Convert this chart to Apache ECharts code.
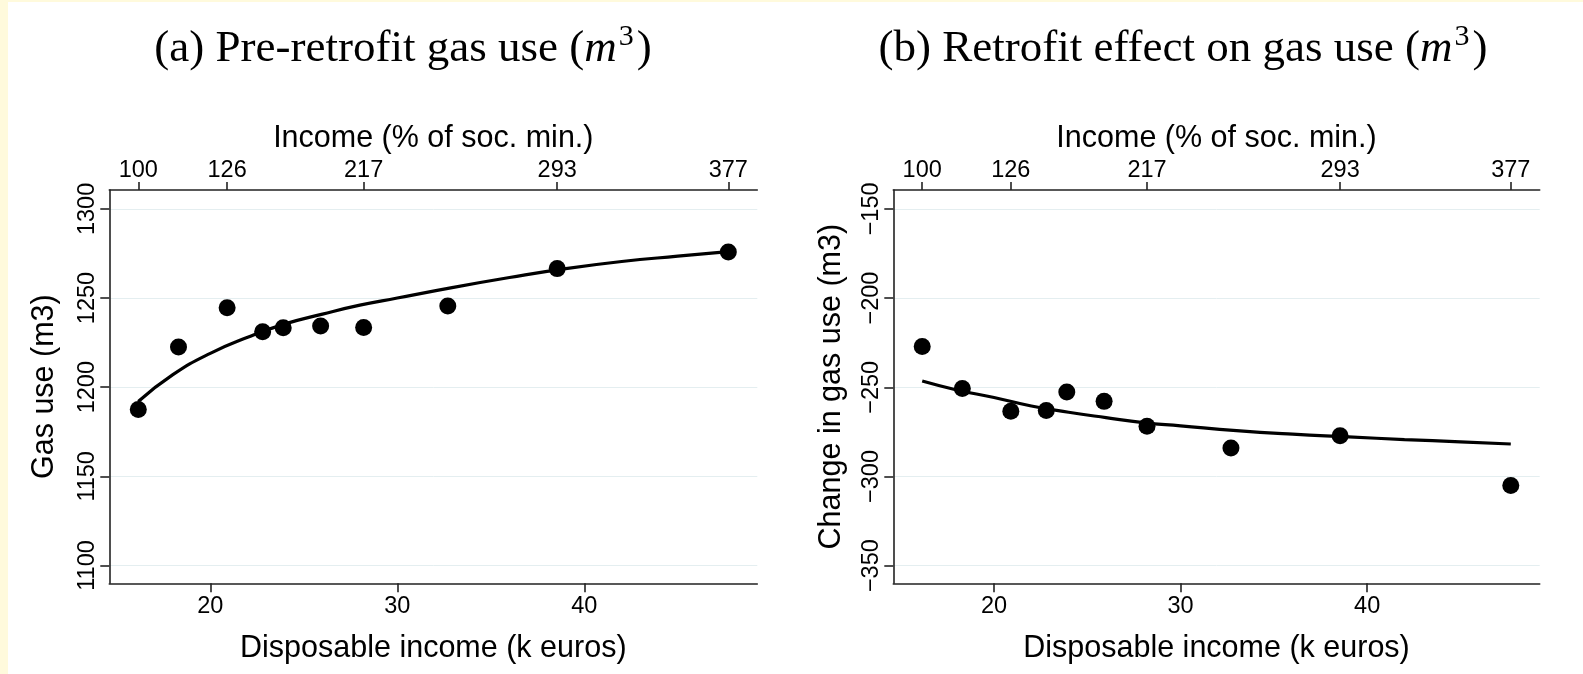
<!DOCTYPE html>
<html><head><meta charset="utf-8">
<script src="https://cdn.jsdelivr.net/npm/echarts@6/dist/echarts.min.js"></script>
<style>
html,body{margin:0;padding:0;width:1583px;height:674px;overflow:hidden;background:#FFFADC;}
#chart{position:absolute;left:8px;top:2px;width:1575px;height:672px;background:#fff;}
</style></head><body><div id="chart"></div>
<script>
// ---- data ----
const incomeK = [16.15, 18.3, 20.9, 22.8, 23.9, 25.9, 28.2, 32.7, 38.55, 47.7];
const gasUse = [1187.5, 1222.5, 1244.6, 1231.1, 1233.3, 1234.3, 1233.5, 1245.5, 1266.5, 1275.8];
const gasChange = [-227.2, -250.7, -263.5, -263.0, -252.6, -257.9, -271.9, -284.1, -277.2, -305.1];
const fitX = [16.15, 18, 20, 22, 24, 26, 28, 30, 33, 36, 39, 42, 45, 47.7];
const gasUseFit = [1192, 1207, 1219, 1228, 1235.5, 1241, 1246, 1250, 1256, 1261.5, 1266.5, 1270.5, 1273.5, 1276];
const gasChangeFit = [-246.5, -251.5, -255.7, -260.5, -264, -267, -269.8, -271.6, -274.3, -276.3, -277.8, -279.3, -280.6, -281.8];
const socMinTickX = [16.15, 20.9, 28.2, 38.55, 47.7];
const socMinTickLabels = ['100', '126', '217', '293', '377'];
const incomeTicks = [20, 30, 40];
const gasUseTicks = [1100, 1150, 1200, 1250, 1300];
const gasChangeTicks = [-350, -300, -250, -200, -150];

const SANS = "'Liberation Sans', Arial, sans-serif";
const SERIF = "'Liberation Serif', 'Times New Roman', serif";
const AX = '#222';
const TICKFS = 23.5, NAMEFS = 30.5;

function bottomAxis(gi) {
  return {
    type: 'value', gridIndex: gi, position: 'bottom', min: 14.6, max: 49.25,
    name: 'Disposable income (k euros)', nameLocation: 'middle', nameGap: 50,
    nameTextStyle: { fontFamily: SANS, fontSize: NAMEFS, color: '#000' },
    axisLine: { show: true, onZero: false, lineStyle: { color: AX, width: 1.6 } },
    axisTick: { show: true, inside: false, length: 9, customValues: incomeTicks, lineStyle: { color: AX, width: 1.6 } },
    axisLabel: { customValues: incomeTicks, margin: 11, fontFamily: SANS, fontSize: TICKFS, color: '#000' },
    splitLine: { show: false }
  };
}
function topAxis(gi) {
  return {
    type: 'value', gridIndex: gi, position: 'top', min: 14.6, max: 49.25,
    name: 'Income (% of soc. min.)', nameLocation: 'middle', nameGap: 33,
    nameTextStyle: { fontFamily: SANS, fontSize: NAMEFS, color: '#000' },
    axisLine: { show: true, onZero: false, lineStyle: { color: AX, width: 1.6 } },
    axisTick: { show: true, inside: false, length: 8, customValues: socMinTickX, lineStyle: { color: AX, width: 1.6 } },
    axisLabel: {
      customValues: socMinTickX, margin: 7, fontFamily: SANS, fontSize: TICKFS, color: '#000',
      formatter: v => { const i = socMinTickX.indexOf(v); return i >= 0 ? socMinTickLabels[i] : ''; }
    },
    splitLine: { show: false }
  };
}
function leftAxis(gi, min, max, ticks, name, gap) {
  return {
    type: 'value', gridIndex: gi, min: min, max: max,
    name: name, nameLocation: 'middle', nameGap: gap, nameRotate: 90,
    nameTextStyle: { fontFamily: SANS, fontSize: NAMEFS, color: '#000' },
    axisLine: { show: true, onZero: false, lineStyle: { color: AX, width: 1.6 } },
    axisTick: { show: true, inside: false, length: 9, customValues: ticks, lineStyle: { color: AX, width: 1.6 } },
    axisLabel: {
      customValues: ticks, rotate: 90, margin: 10, fontFamily: SANS, fontSize: TICKFS, color: '#000',
      formatter: v => String(v).replace('-', '\u2212')
    },
    splitLine: { show: true, lineStyle: { color: '#E4EEF0', width: 1 } }
  };
}
function titleRich(prefix, left) {
  return {
    text: '{n|' + prefix + ' (}{i|m}{s|3}{n|)}',
    left: left, top: 42, textAlign: 'center', textVerticalAlign: 'middle',
    textStyle: {
      rich: {
        n: { fontFamily: SERIF, fontSize: 45, fontWeight: 'normal', color: '#000', lineHeight: 54 },
        i: { fontFamily: SERIF, fontSize: 45, fontWeight: 'normal', fontStyle: 'italic', color: '#000', lineHeight: 54 },
        s: { fontFamily: SERIF, fontSize: 30, fontWeight: 'normal', color: '#000', verticalAlign: 'top', lineHeight: 54, padding: [0, 3, 20, 2] }
      }
    }
  };
}

const chart = echarts.init(document.getElementById('chart'), null, { renderer: 'canvas' });
chart.setOption({
  animation: false,
  backgroundColor: '#fff',
  title: [titleRich('(a) Pre-retrofit gas use', 390), titleRich('(b) Retrofit effect on gas use', 1170)],
  grid: [
    { left: 101.3, top: 188, width: 648, height: 393.3 },
    { left: 885.3, top: 188, width: 646.4, height: 393.3 }
  ],
  xAxis: [bottomAxis(0), topAxis(0), bottomAxis(1), topAxis(1)],
  yAxis: [
    leftAxis(0, 1090, 1310.6, gasUseTicks, 'Gas use (m3)', 49),
    leftAxis(1, -359.9, -139.4, gasChangeTicks, 'Change in gas use (m3)', 46)
  ],
  series: [
    { type: 'line', xAxisIndex: 0, yAxisIndex: 0, smooth: true, showSymbol: false, z: 2,
      data: fitX.map((x, i) => [x, gasUseFit[i]]), lineStyle: { color: '#000', width: 3.2 } },
    { type: 'scatter', xAxisIndex: 0, yAxisIndex: 0, symbolSize: 17, z: 3,
      data: incomeK.map((x, i) => [x, gasUse[i]]), itemStyle: { color: '#000', opacity: 1 } },
    { type: 'line', xAxisIndex: 2, yAxisIndex: 1, smooth: true, showSymbol: false, z: 2,
      data: fitX.map((x, i) => [x, gasChangeFit[i]]), lineStyle: { color: '#000', width: 3.2 } },
    { type: 'scatter', xAxisIndex: 2, yAxisIndex: 1, symbolSize: 17, z: 3,
      data: incomeK.map((x, i) => [x, gasChange[i]]), itemStyle: { color: '#000', opacity: 1 } }
  ]
});
</script></body></html>
